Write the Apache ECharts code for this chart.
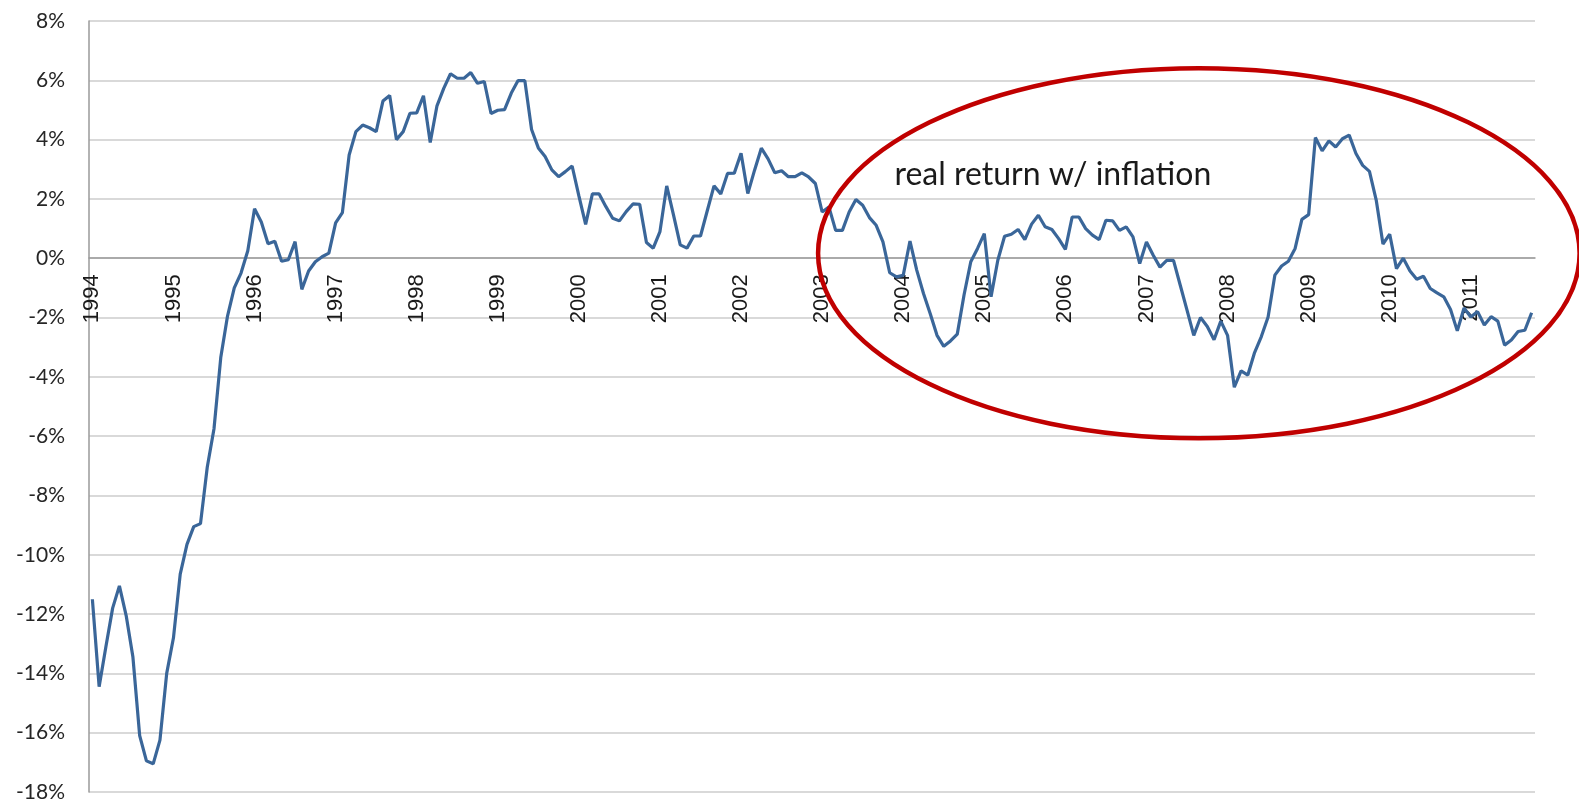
<!DOCTYPE html>
<html>
<head>
    <meta charset="utf-8">
    <title>Real return</title>
    <script src="https://cdn.jsdelivr.net/npm/echarts@6/dist/echarts.min.js"></script>
    <style>
        html, body { margin: 0; padding: 0; background: #fff; }
        #main { width: 1579px; height: 801px; }
    </style>
</head>
<body>
    <div id="main"></div>

    <script type="text/javascript">
        // year labels on the x axis (one label every January)
        var years = [1994, 1995, 1996, 1997, 1998, 1999, 2000, 2001, 2002,
                     2003, 2004, 2005, 2006, 2007, 2008, 2009, 2010, 2011];

        // monthly real return in %, Jan 1994 .. Oct 2011
        var realReturn = [
            -11.5, -14.45, -13.1, -11.8, -11.05, -12.05, -13.45, -16.1, -16.95, -17.05, -16.25, -14.0,   // 1994
            -12.8, -10.65, -9.65, -9.05, -8.95, -7.05, -5.75, -3.35, -1.95, -1.0, -0.5, 0.25,           // 1995
            1.67, 1.22, 0.49, 0.57, -0.1, -0.05, 0.56, -1.05, -0.43, -0.12, 0.05, 0.17,                  // 1996
            1.19, 1.54, 3.48, 4.27, 4.49, 4.4, 4.27, 5.3, 5.49, 4.0, 4.27, 4.89,                          // 1997
            4.9, 5.48, 3.9, 5.14, 5.73, 6.22, 6.07, 6.07, 6.26, 5.9, 5.96, 4.88,                          // 1998
            4.99, 5.01, 5.57, 5.99, 5.99, 4.34, 3.72, 3.43, 2.98, 2.75, 2.92, 3.11,                       // 1999
            2.1, 1.14, 2.17, 2.17, 1.74, 1.35, 1.26, 1.57, 1.83, 1.82, 0.53, 0.34,                        // 2000
            0.9, 2.44, 1.46, 0.45, 0.34, 0.75, 0.75, 1.6, 2.44, 2.17, 2.86, 2.87,                         // 2001
            3.54, 2.18, 2.97, 3.71, 3.35, 2.88, 2.95, 2.75, 2.75, 2.88, 2.74, 2.52,                       // 2002
            1.56, 1.73, 0.94, 0.94, 1.56, 1.98, 1.79, 1.37, 1.11, 0.55, -0.49, -0.63,                     // 2003
            -0.58, 0.58, -0.4, -1.19, -1.87, -2.6, -2.97, -2.79, -2.56, -1.24, -0.12, 0.33,               // 2004
            0.83, -1.3, -0.07, 0.74, 0.81, 0.97, 0.63, 1.15, 1.45, 1.06, 0.97, 0.66,                      // 2005
            0.3, 1.39, 1.39, 1.0, 0.78, 0.63, 1.28, 1.26, 0.94, 1.06, 0.72, -0.18,                        // 2006
            0.55, 0.1, -0.3, -0.07, -0.07, -0.91, -1.75, -2.6, -2.0, -2.3, -2.75, -2.12,                  // 2007
            -2.6, -4.35, -3.8, -3.94, -3.18, -2.64, -1.98, -0.57, -0.26, -0.1, 0.33, 1.31,                // 2008
            1.47, 4.07, 3.62, 3.96, 3.75, 4.03, 4.15, 3.53, 3.13, 2.93, 1.96, 0.48,                       // 2009
            0.81, -0.35, 0.0, -0.43, -0.71, -0.61, -1.02, -1.17, -1.3, -1.73, -2.45, -1.68,               // 2010
            -1.98, -1.8, -2.25, -1.97, -2.12, -2.93, -2.76, -2.47, -2.43, -1.84                           // 2011
        ];

        // the hand-drawn red oval and its note, placed in data units (month index, %)
        var noteText = 'real return w/ inflation';
        var noteAt = [118.7, 2.82];
        var oval = { month: 163.75, value: 0.17, rxMonths: 56.35, ryPct: 6.24 };

        var months = [];
        for (var i = 0; i < realReturn.length; i++) {
            months.push(years[0] + Math.floor(i / 12) + '-' + (i % 12 + 1));
        }

        var myChart = echarts.init(document.getElementById('main'));

        var option = {
            animation: false,
            backgroundColor: '#ffffff',
            grid: {
                left: 89,
                right: 44,
                top: 21,
                bottom: 9,
                containLabel: false,
                outerBoundsMode: 'none'
            },
            xAxis: {
                type: 'category',
                data: months,
                boundaryGap: true,
                axisLine: { onZero: false, lineStyle: { color: '#9a9a9a', width: 1.5 } },
                axisTick: { show: false },
                axisLabel: {
                    rotate: 90,
                    margin: 16,
                    interval: function (idx) { return idx % 12 === 0; },
                    formatter: function (val, idx) { return String(years[Math.floor(idx / 12)]); },
                    fontFamily: 'Liberation Sans',
                    fontSize: 22,
                    color: '#1a1a1a'
                },
                splitLine: { show: false }
            },
            yAxis: {
                type: 'value',
                min: -18,
                max: 8,
                interval: 2,
                axisLine: { show: true, lineStyle: { color: '#9a9a9a', width: 1.5 } },
                axisTick: { show: false },
                axisLabel: {
                    formatter: '{value}%',
                    margin: 24,
                    fontFamily: 'Lato',
                    fontSize: 21,
                    color: '#262626'
                },
                splitLine: { lineStyle: { color: '#cccccc', width: 1.5 } }
            },
            series: [{
                name: 'real return',
                type: 'line',
                data: realReturn,
                symbol: 'none',
                lineStyle: { color: '#3a6699', width: 3.2 },
                z: 3
            }]
        };

        myChart.setOption(option);

        // scale factors from the axes, so the oval and the note follow the data space
        var p0 = myChart.convertToPixel({ gridIndex: 0 }, [0, 0]);
        var p1 = myChart.convertToPixel({ gridIndex: 0 }, [12, 2]);
        var pBottom = myChart.convertToPixel({ gridIndex: 0 }, [0, -18]);
        var perMonth = (p1[0] - p0[0]) / 12;
        var perPct = (p0[1] - p1[1]) / 2;

        myChart.setOption({
            // move the category axis (line and year labels) up to the 0% line
            xAxis: { offset: -(pBottom[1] - p0[1]) },
            graphic: [{
                type: 'ellipse',
                z: 10,
                shape: {
                    cx: p0[0] + oval.month * perMonth,
                    cy: p0[1] - oval.value * perPct,
                    rx: oval.rxMonths * perMonth,
                    ry: oval.ryPct * perPct
                },
                style: { fill: 'none', stroke: '#c00000', lineWidth: 4.5 }
            }, {
                type: 'text',
                z: 10,
                x: p0[0] + noteAt[0] * perMonth,
                y: p0[1] - noteAt[1] * perPct,
                style: {
                    text: noteText,
                    font: '32px Lato',
                    fill: '#1a1a1a',
                    verticalAlign: 'middle'
                }
            }]
        });
    </script>
</body>
</html>
